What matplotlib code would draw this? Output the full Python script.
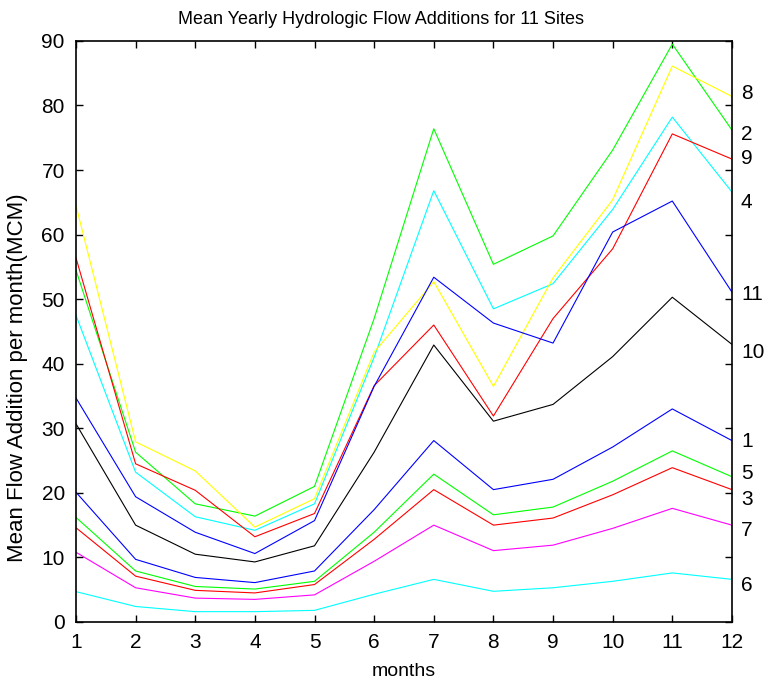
"""Mean yearly hydrologic flow additions for 11 sites (MATLAB-style line chart)."""
import matplotlib
matplotlib.use("Agg")
import matplotlib.pyplot as plt

plt.rcParams["font.family"] = ["Liberation Sans", "DejaVu Sans"]

months = list(range(1, 13))

# monthly mean flow additions (MCM)
site1 = [20.1, 9.7, 6.9, 6.1, 7.9, 17.4, 28.1, 20.5, 22.1, 27.1, 33.0, 28.1]
site2 = [54.5, 26.3, 18.3, 16.4, 21.0, 47.0, 76.4, 55.4, 59.8, 73.1, 89.5, 76.2]
site3 = [14.6, 7.1, 4.9, 4.5, 5.8, 12.8, 20.5, 15.0, 16.1, 19.7, 23.9, 20.5]
site4 = [47.5, 23.2, 16.3, 14.2, 18.3, 41.0, 66.8, 48.5, 52.4, 63.9, 78.2, 66.6]
site5 = [16.2, 7.9, 5.5, 5.1, 6.3, 13.9, 22.9, 16.6, 17.8, 21.8, 26.5, 22.5]
site6 = [4.7, 2.4, 1.6, 1.6, 1.8, 4.3, 6.6, 4.75, 5.3, 6.3, 7.6, 6.6]
site7 = [10.8, 5.3, 3.7, 3.5, 4.2, 9.4, 15.0, 11.05, 11.9, 14.5, 17.6, 15.0]
site8 = [64.5, 27.9, 23.4, 14.7, 19.1, 41.8, 52.7, 36.5, 53.3, 65.4, 86.1, 81.4]
site9 = [56.4, 24.5, 20.4, 13.2, 16.8, 36.6, 46.0, 31.9, 47.0, 57.8, 75.6, 71.7]
site10 = [30.7, 15.0, 10.5, 9.3, 11.8, 26.3, 42.9, 31.1, 33.7, 41.1, 50.3, 43.0]
site11 = [34.7, 19.4, 13.9, 10.6, 15.7, 36.5, 53.4, 46.3, 43.2, 60.4, 65.2, 51.1]

series = [site1, site2, site3, site4, site5, site6, site7, site8, site9, site10, site11]
site_names = ["1", "2", "3", "4", "5", "6", "7", "8", "9", "10", "11"]
colors = ["#0000ff", "#00ff00", "#ff0000", "#00ffff", "#00ff00", "#00ffff",
          "#ff00ff", "#ffff00", "#ff0000", "#000000", "#0000ff"]

# vertical positions of the site labels at the right edge (data units)
label_y = [28.0, 75.5, 18.9, 65.0, 23.0, 5.7, 14.1, 81.9, 71.8, 41.8, 50.8]

fig = plt.figure(figsize=(7.69, 6.82), dpi=100)
ax = fig.add_axes([0.0988, 0.088, 0.853, 0.852])

for vals, c in zip(series, colors):
    ax.plot(months, vals, color=c, linewidth=0.8)

for name, ly in zip(site_names, label_y):
    ax.text(12.15, ly, name, fontsize=15, va="center", ha="left", clip_on=False)

ax.set_xlim(1, 12)
ax.set_ylim(0, 90)
ax.set_xticks(months)
ax.set_yticks(range(0, 91, 10))
ax.tick_params(direction="in", top=True, right=True, length=5, width=1,
               labelsize=15, pad=8)
for spine in ax.spines.values():
    spine.set_linewidth(1.2)

ax.set_xlabel("months", fontsize=14, labelpad=8)
ax.set_ylabel("Mean Flow Addition per month(MCM)", fontsize=16, labelpad=4)
ax.yaxis.set_label_coords(-0.073, 0.42)
ax.set_title("Mean Yearly Hydrologic Flow Additions for 11 Sites", fontsize=13,
             pad=12, x=0.465)

fig.savefig("out.png", dpi=100)
